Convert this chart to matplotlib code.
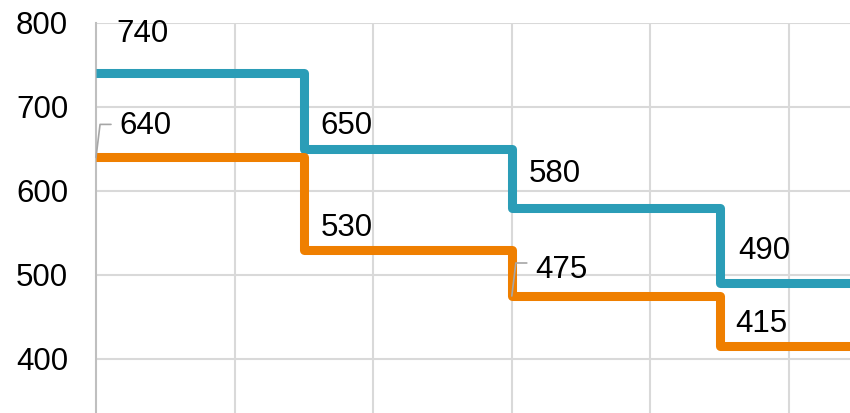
import matplotlib.pyplot as plt

# data
x_steps = [0, 1.5, 3, 4.5]
blue_vals = [740, 650, 580, 490]
orange_vals = [640, 530, 475, 415]
y_ticks = [400, 500, 600, 700, 800]

plt.rcParams['font.family'] = ['Liberation Sans', 'DejaVu Sans']

fig = plt.figure(figsize=(8.5, 4.13), dpi=100)
ax = fig.add_axes([96 / 850, 0, 754 / 850, 390 / 413])

x_end = 6
blue_c = '#2B9DB7'
orange_c = '#EF7F00'
fs = 22.5
ax.plot(x_steps + [x_end], blue_vals + [blue_vals[-1]], drawstyle='steps-post',
        color=blue_c, lw=6.5, solid_joinstyle='round', solid_capstyle='butt', zorder=3)
ax.plot(x_steps + [x_end], orange_vals + [orange_vals[-1]], drawstyle='steps-post',
        color=orange_c, lw=6.5, solid_joinstyle='round', solid_capstyle='butt', zorder=3)

ax.set_xlim(0, 754 / 138.6)
ax.set_ylim(800 - 390 / 0.84, 800)

ax.set_yticks(y_ticks)
ax.set_xticks([1, 2, 3, 4, 5])
ax.tick_params(axis='y', length=0, pad=20, labelsize=fs)
ax.tick_params(axis='x', length=0, labelbottom=False)
ax.grid(True, color='#d9d9d9', lw=1.5)
ax.set_axisbelow(True)
for s in ['top', 'right', 'bottom']:
    ax.spines[s].set_visible(False)
ax.spines['left'].set_color('#bfbfbf')
ax.spines['left'].set_linewidth(1.5)

# data labels (offsets in pixels)
blue_off = [(47, 39), (43, 23), (43, 34), (45, 32)]
orange_off = [(49, 31), (43, 22), (50, 26), (42, 22)]
for x, v, off in zip(x_steps, blue_vals, blue_off):
    ax.annotate(str(v), (x, v), xytext=off, textcoords='offset pixels',
                ha='center', va='center', fontsize=fs, annotation_clip=False)
for x, v, off in zip(x_steps, orange_vals, orange_off):
    ax.annotate(str(v), (x, v), xytext=off, textcoords='offset pixels',
                ha='center', va='center', fontsize=fs, annotation_clip=False)

# leader lines for 640 and 475
for i in [0, 2]:
    ax.annotate('', (x_steps[i], orange_vals[i]), xytext=(15, 33),
                textcoords='offset pixels',
                arrowprops=dict(arrowstyle='-', color='#a6a6a6', lw=1.2,
                                shrinkA=0, shrinkB=0,
                                connectionstyle='angle,angleA=0,angleB=83'))

fig.savefig('out.png', dpi=100)
